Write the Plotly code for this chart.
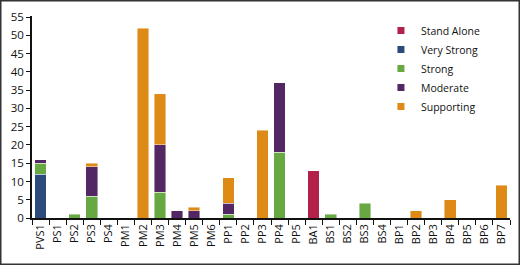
import plotly.graph_objects as go

categories = ["PVS1","PS1","PS2","PS3","PS4","PM1","PM2","PM3","PM4","PM5","PM6",
              "PP1","PP2","PP3","PP4","PP5","BA1","BS1","BS2","BS3","BS4",
              "BP1","BP2","BP3","BP4","BP5","BP6","BP7"]

stand_alone = [0,0,0,0,0,0,0,0,0,0,0, 0,0,0,0,0,13,0,0,0,0, 0,0,0,0,0,0,0]
very_strong = [12,0,0,0,0,0,0,0,0,0,0, 0,0,0,0,0,0,0,0,0,0, 0,0,0,0,0,0,0]
strong      = [3,0,1,6,0,0,0,7,0,0,0, 1,0,0,18,0,0,1,0,4,0, 0,0,0,0,0,0,0]
moderate    = [1,0,0,8,0,0,0,13,2,2,0, 3,0,0,19,0,0,0,0,0,0, 0,0,0,0,0,0,0]
supporting  = [0,0,0,1,0,0,52,14,0,1,0, 7,0,24,0,0,0,0,0,0,0, 0,2,0,5,0,0,9]

series = [
    ("Stand Alone", stand_alone, "#B3214A"),
    ("Very Strong", very_strong, "#2C4A7C"),
    ("Strong", strong, "#68A843"),
    ("Moderate", moderate, "#532664"),
    ("Supporting", supporting, "#DD8A17"),
]

fig = go.Figure()
for name, vals, col in series:
    fig.add_bar(x=categories, y=[v if v else None for v in vals], name=name,
                legendgroup=name, showlegend=False,
                marker=dict(color=col, line=dict(color="rgba(255,255,255,0.55)", width=0.8)))
for name, vals, col in series:
    fig.add_scatter(x=[None], y=[None], mode="markers", name=name, legendgroup=name,
                    marker=dict(symbol="square", size=7, color=col), showlegend=True)

W, H = 520, 265
ml, mr, mt, mb = 32, 10, 16, 47
pw, ph = W - ml - mr, H - mt - mb

fig.update_layout(
    width=W, height=H, barmode="stack", bargap=0.32,
    margin=dict(l=ml, r=mr, t=mt, b=mb),
    paper_bgcolor="white", plot_bgcolor="white",
    font=dict(family="Open Sans, Lato, sans-serif", size=11, color="#111"),
    showlegend=True,
    legend=dict(x=0.73, y=1.0, xanchor="left", yanchor="top", traceorder="normal",
                font=dict(size=10.5), itemwidth=30, tracegroupgap=0,
                bgcolor="rgba(0,0,0,0)"),
    xaxis=dict(type="category", showline=True, linecolor="#111", linewidth=1.5,
               ticks="outside", tickson="boundaries", ticklen=5, tickcolor="#111",
               tickwidth=1.2, tickangle=-90, tickfont=dict(size=11), showgrid=False),
    yaxis=dict(range=[0, 55.3], dtick=5, showline=True, linecolor="#111", linewidth=1.5,
               ticks="outside", ticklen=4, tickcolor="#111", tickwidth=1.2,
               tickfont=dict(size=11.5), showgrid=False, zeroline=False),
)

fig.add_shape(type="rect", xref="paper", yref="paper",
              x0=(-ml + 0.75) / pw, x1=1 + (mr - 0.75) / pw,
              y0=(-mb + 0.75) / ph, y1=1 + (mt - 0.75) / ph,
              line=dict(color="#333", width=1.5), layer="above")

fig.write_html("out.html", config={"displayModeBar": False},
               post_script="document.body.style.margin='0';document.body.style.padding='0';")
